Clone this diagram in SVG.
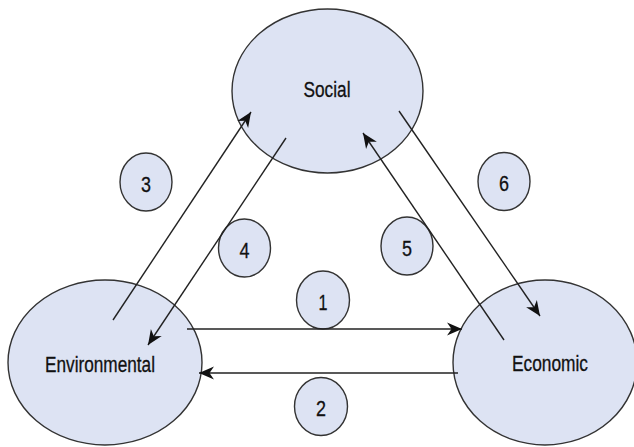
<svg xmlns="http://www.w3.org/2000/svg" width="634" height="447" viewBox="0 0 634 447">
<style>
.node{fill:#dde3f3;stroke:#333;stroke-width:1.4}
.lbl{font-family:"Liberation Sans Narrow","Liberation Sans",Arial,sans-serif;font-size:22px;fill:#111;stroke:#111;stroke-width:0.3;text-anchor:middle}
.conn{stroke:#222;stroke-width:1.4;fill:none;marker-end:url(#ah)}
</style>
<defs>
<marker id="ah" markerUnits="userSpaceOnUse" markerWidth="18" markerHeight="16" viewBox="-16 -8 17 16" refX="0" refY="0" orient="auto">
<path d="M-15,-6.5 L0,0 L-15,6.5 L-10.5,0 Z" fill="#111"/>
</marker>
</defs>
<rect width="634" height="447" fill="#fff"/>
<g id="social"><ellipse class="node" cx="327.5" cy="91" rx="95.5" ry="82"/><text class="lbl" x="327" y="97" textLength="47" lengthAdjust="spacingAndGlyphs">Social</text></g>
<g id="environmental"><ellipse class="node" cx="105" cy="362.5" rx="97" ry="82.5"/><text class="lbl" x="100" y="372" textLength="110" lengthAdjust="spacingAndGlyphs">Environmental</text></g>
<g id="economic"><ellipse class="node" cx="545" cy="362.5" rx="92" ry="82.5"/><text class="lbl" x="550" y="371" textLength="76" lengthAdjust="spacingAndGlyphs">Economic</text></g>
<g id="n1"><ellipse class="node" cx="323" cy="300" rx="26.5" ry="29"/><text class="lbl" x="323" y="309.5" textLength="9" lengthAdjust="spacingAndGlyphs">1</text></g>
<g id="n2"><ellipse class="node" cx="321" cy="406.5" rx="26.5" ry="29"/><text class="lbl" x="321" y="416" textLength="10" lengthAdjust="spacingAndGlyphs">2</text></g>
<g id="n3"><ellipse class="node" cx="146" cy="182" rx="26" ry="29"/><text class="lbl" x="146" y="191.5" textLength="10" lengthAdjust="spacingAndGlyphs">3</text></g>
<g id="n4"><ellipse class="node" cx="244.5" cy="248" rx="26" ry="29"/><text class="lbl" x="244.5" y="257.5" textLength="10" lengthAdjust="spacingAndGlyphs">4</text></g>
<g id="n5"><ellipse class="node" cx="407" cy="246" rx="26" ry="29"/><text class="lbl" x="407" y="255.5" textLength="10" lengthAdjust="spacingAndGlyphs">5</text></g>
<g id="n6"><ellipse class="node" cx="504" cy="181.5" rx="26" ry="29"/><text class="lbl" x="504" y="191" textLength="10" lengthAdjust="spacingAndGlyphs">6</text></g>
<g id="connectors">
<line class="conn" x1="187" y1="329" x2="462" y2="329"/>
<line class="conn" x1="458" y1="373" x2="199" y2="373"/>
<line class="conn" x1="113" y1="320" x2="251" y2="112"/>
<line class="conn" x1="286" y1="138" x2="148" y2="345"/>
<line class="conn" x1="504" y1="340" x2="363" y2="133"/>
<line class="conn" x1="399" y1="111" x2="540" y2="316"/>
</g>
</svg>
